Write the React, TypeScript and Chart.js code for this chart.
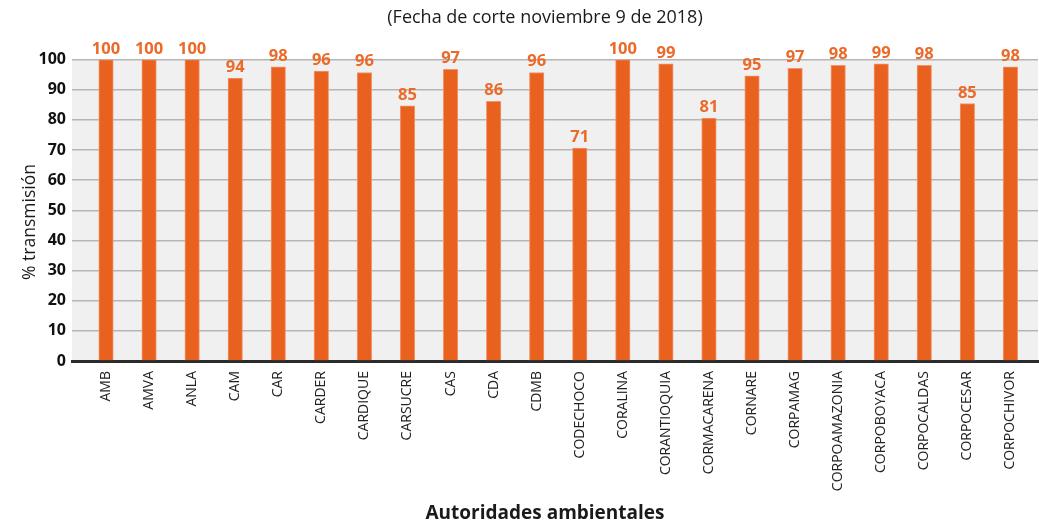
import React, { useEffect, useRef } from "react";
import { Chart, registerables } from "chart.js";

Chart.register(...registerables);

const categories = [
  "AMB", "AMVA", "ANLA", "CAM", "CAR", "CARDER", "CARDIQUE", "CARSUCRE", "CAS", "CDA", "CDMB",
  "CODECHOCO", "CORALINA", "CORANTIOQUIA", "CORMACARENA", "CORNARE", "CORPAMAG", "CORPOAMAZONIA",
  "CORPOBOYACA", "CORPOCALDAS", "CORPOCESAR", "CORPOCHIVOR",
];
const values = [
  100, 100, 100, 93.8, 97.6, 96.2, 95.7, 84.6, 96.7, 86.1, 95.7,
  70.6, 100, 98.6, 80.6, 94.6, 97.1, 98.1, 98.6, 98.1, 85.4, 97.6,
];
const valueLabels = [
  "100", "100", "100", "94", "98", "96", "96", "85", "97", "86", "96",
  "71", "100", "99", "81", "95", "97", "98", "99", "98", "85", "98",
];
const yTicks = [0, 10, 20, 30, 40, 50, 60, 70, 80, 90, 100];
const chartTitle = "(Fecha de corte noviembre 9 de 2018)";
const xAxisTitle = "Autoridades ambientales";
const yAxisTitle = "% transmisión";

const FONT = "'Open Sans', 'Noto Sans', sans-serif";
const ORANGE = "#E8611E";
const LABEL_ORANGE = "#EC6A28";

export default function App() {
  const ref = useRef<HTMLCanvasElement | null>(null);

  useEffect(() => {
    document.body.style.margin = "0";
    const canvas = ref.current;
    if (!canvas) return;

    const bgPlugin = {
      id: "bgPlugin",
      beforeDraw(chart: any) {
        const { ctx, chartArea } = chart;
        ctx.save();
        ctx.fillStyle = "#f0f0f0";
        ctx.fillRect(chartArea.left, chartArea.top, chartArea.right - chartArea.left, chartArea.bottom - chartArea.top);
        ctx.restore();
      },
    };

    const labelPlugin = {
      id: "labelPlugin",
      afterDatasetsDraw(chart: any) {
        const { ctx } = chart;
        const meta = chart.getDatasetMeta(0);
        ctx.save();
        ctx.fillStyle = LABEL_ORANGE;
        ctx.font = `bold 16.5px ${FONT}`;
        ctx.textAlign = "center";
        ctx.textBaseline = "alphabetic";
        meta.data.forEach((bar: any, i: number) => {
          ctx.fillText(valueLabels[i], bar.x, bar.y - 6);
        });
        ctx.restore();
      },
    };

    const textPlugin = {
      id: "textPlugin",
      afterDraw(chart: any) {
        const { ctx } = chart;
        ctx.save();
        ctx.fillStyle = "#1a1a1a";
        ctx.textAlign = "center";
        ctx.textBaseline = "middle";
        ctx.font = `18px ${FONT}`;
        ctx.fillText(chartTitle, 545, 18);
        ctx.font = `bold 19px ${FONT}`;
        ctx.fillText(xAxisTitle, 545, 514);
        ctx.translate(30, 222);
        ctx.rotate(-Math.PI / 2);
        ctx.font = `17.5px ${FONT}`;
        ctx.fillText(yAxisTitle, 0, 0);
        ctx.restore();
      },
    };

    const chart = new Chart(canvas, {
      type: "bar",
      data: {
        datasets: [
          {
            data: values.map((v, i) => ({ x: i, y: v })),
            backgroundColor: ORANGE,
            borderColor: "#F3946A",
            borderWidth: 1,
            barThickness: 14.5,
          },
        ],
      },
      options: {
        responsive: false,
        animation: false,
        layout: { padding: { top: 59.5, right: 1, left: 0, bottom: 0 } },
        plugins: {
          legend: { display: false },
          title: { display: false },
          tooltip: { enabled: false },
        },
        scales: {
          x: {
            type: "linear",
            offset: false,
            min: -0.79,
            max: 21.64,
            afterBuildTicks: (scale: any) => {
              scale.ticks = categories.map((_, i) => ({ value: i }));
            },
            afterFit: (scale: any) => {
              scale.height = 164;
            },
            grid: { display: false, drawTicks: false, offset: false },
            border: { display: true, color: "#2b2b2b", width: 3 },
            ticks: {
              autoSkip: false,
              maxRotation: 90,
              minRotation: 90,
              padding: 10,
              color: "#222",
              font: { family: FONT, size: 14 },
              callback: (v: any) => categories[v as number] ?? "",
            },
          },
          y: {
            min: 0,
            max: 100,
            afterBuildTicks: (scale: any) => {
              scale.ticks = yTicks.map((v) => ({ value: v }));
            },
            afterFit: (scale: any) => {
              scale.width = 72;
            },
            grid: { color: "#b5b5b5", lineWidth: 1.5, drawTicks: false },
            border: { display: false },
            ticks: {
              padding: 6,
              color: "#111",
              font: { family: FONT, size: 16, weight: "bold" },
            },
          },
        },
      },
      plugins: [bgPlugin, labelPlugin, textPlugin],
    } as any);

    return () => chart.destroy();
  }, []);

  return (
    <div style={{ position: "absolute", left: 0, top: 0, width: 1039, height: 525 }}>
      <canvas ref={ref} width={1039} height={525} />
    </div>
  );
}
